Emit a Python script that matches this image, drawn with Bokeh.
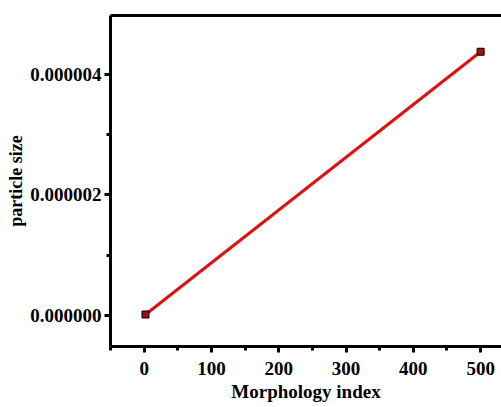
from bokeh.plotting import figure
from bokeh.models import LinearAxis, FixedTicker, PrintfTickFormatter, Range1d
from bokeh.embed import file_html
from bokeh.resources import INLINE

morphology_index = [2, 500]
particle_size = [0.00000002, 0.00000437]

x_ticks = [0, 100, 200, 300, 400, 500]
x_minor = [-50, 50, 150, 250, 350, 450, 550]
y_ticks = [0.0, 0.000002, 0.000004]
y_minor = [-0.000001, 0.000001, 0.000003, 0.000005]

FONT = "Liberation Serif"

p = figure(width=501, height=407, output_backend="svg", toolbar_location=None,
           x_range=Range1d(-50, 531), y_range=Range1d(-0.00000051, 0.00000497),
           min_border_left=110, min_border_top=15, min_border_right=0, min_border_bottom=61)
p.grid.visible = False
p.outline_line_color = None
p.background_fill_color = "white"
p.border_fill_color = "white"

p.xaxis.ticker = FixedTicker(ticks=x_ticks, minor_ticks=x_minor)
p.yaxis.ticker = FixedTicker(ticks=y_ticks, minor_ticks=y_minor)
p.yaxis.formatter = PrintfTickFormatter(format="%.6f")
p.xaxis.axis_label = "Morphology index"
p.yaxis.axis_label = "particle size"

for ax in (p.xaxis[0], p.yaxis[0]):
    ax.axis_line_width = 3
    ax.axis_line_color = "black"
    ax.major_tick_line_width = 3
    ax.minor_tick_line_width = 3
    ax.major_tick_out = 6
    ax.major_tick_in = 0
    ax.minor_tick_out = 4
    ax.minor_tick_in = 0
    ax.major_label_text_font = FONT
    ax.major_label_text_font_style = "bold"
    ax.major_label_text_font_size = "19px"
    ax.major_label_text_color = "black"
    ax.axis_label_text_font = FONT
    ax.axis_label_text_font_style = "bold"
    ax.axis_label_text_color = "black"

p.xaxis.axis_label_text_font_size = "19px"
p.yaxis.axis_label_text_font_size = "18px"
p.xaxis.major_label_standoff = 9
p.xaxis.axis_label_standoff = 3
p.yaxis.major_label_standoff = 3
p.yaxis.axis_label_standoff = 1

top = LinearAxis(ticker=FixedTicker(ticks=[]), axis_line_width=3, axis_line_color="black",
                 major_tick_line_color=None, minor_tick_line_color=None,
                 major_label_text_font_size="0px")
p.add_layout(top, "above")

p.line(morphology_index, particle_size, line_color="#e01010", line_width=3)
p.scatter(morphology_index, particle_size, marker="square", size=7,
          fill_color="#a01010", line_color="black", line_width=1)

open("out.html", "w").write(file_html(p, INLINE))
